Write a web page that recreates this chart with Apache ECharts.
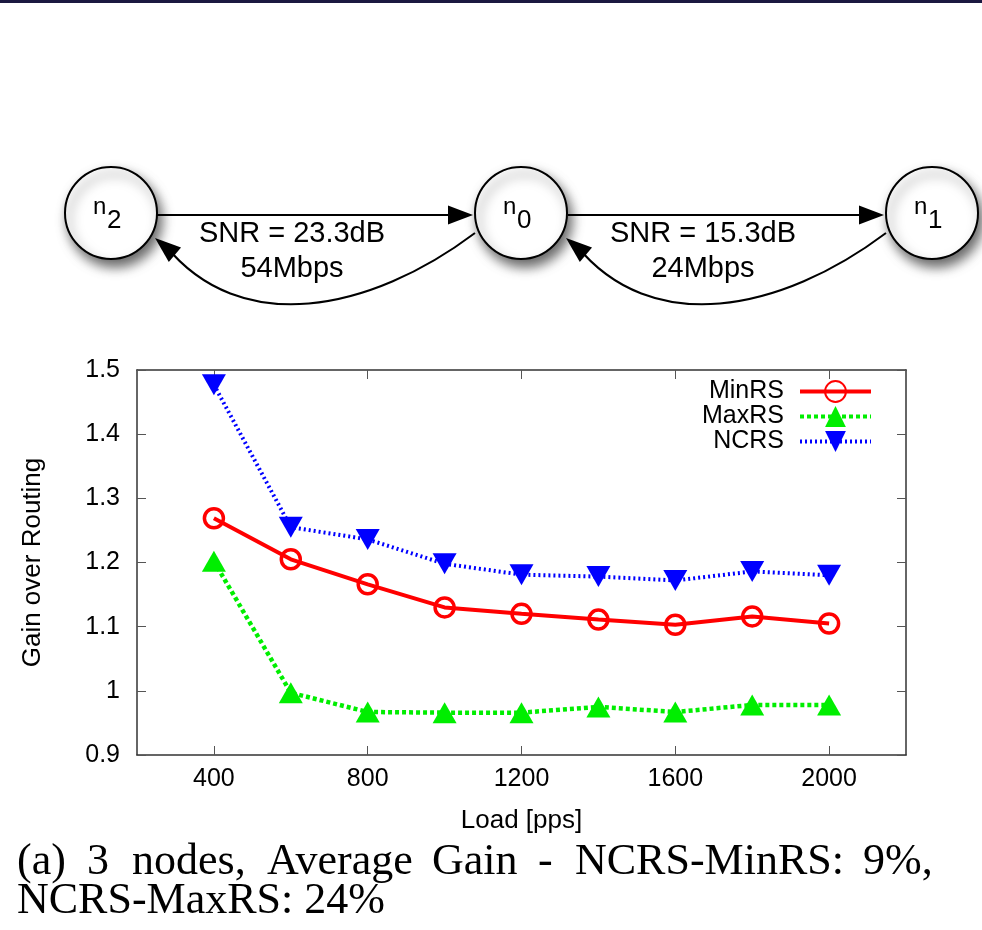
<!DOCTYPE html>
<html><head><meta charset="utf-8">
<script src="https://cdn.jsdelivr.net/npm/echarts@6/dist/echarts.min.js"></script>
<style>html,body{margin:0;padding:0;background:#fff}#c{width:982px;height:930px}</style>
</head><body><div id="c"></div>
<script>
// ---- data ----
const loads = [400, 600, 800, 1000, 1200, 1400, 1600, 1800, 2000];
const minRS = [1.269, 1.205, 1.166, 1.130, 1.120, 1.111, 1.103, 1.116, 1.105];
const maxRS = [1.202, 0.997, 0.967, 0.966, 0.966, 0.975, 0.967, 0.978, 0.978];
const ncRS  = [1.477, 1.255, 1.236, 1.198, 1.181, 1.178, 1.172, 1.186, 1.180];
const xTicks = [400, 800, 1200, 1600, 2000];
const yTicks = [0.9, 1.0, 1.1, 1.2, 1.3, 1.4, 1.5];
const seriesNames = ['MinRS', 'MaxRS', 'NCRS'];
const nodeNames = [['n', '2'], ['n', '0'], ['n', '1']];
const linkLabels = [['SNR = 23.3dB', '54Mbps'], ['SNR = 15.3dB', '24Mbps']];
const captionLine1 = ['(a)', '3', 'nodes,', 'Average', 'Gain', '-', 'NCRS-MinRS:', '9%,'];
const captionLine2 = 'NCRS-MaxRS: 24%';

// ---- layout/styles ----
const SANS = '"Liberation Sans", Arial, sans-serif';
const SERIF = '"Liberation Serif", "Times New Roman", serif';
const nodeCx = [111, 521, 932], nodeCy = 213, nodeR = 46;
const captionX1 = [17, 87, 132, 267, 432, 538, 575, 863];

function pairs(ys) { return loads.map((x, i) => [x, ys[i]]); }

function arrowHead(tx, ty, angleDeg, L, W) {
  const a = angleDeg * Math.PI / 180;
  const dx = Math.cos(a), dy = Math.sin(a);
  const bx = tx - L * dx, by = ty - L * dy;
  const nx = -dy, ny = dx;
  return {
    type: 'polygon',
    shape: { points: [[tx, ty], [bx + W * nx, by + W * ny], [bx - W * nx, by - W * ny]] },
    style: { fill: '#000' }, z: 10
  };
}

const g = [];
g.push({ type: 'rect', shape: { x: 0, y: 0, width: 982, height: 3 }, style: { fill: '#1b1840' } });
// links
for (let k = 0; k < 2; k++) {
  const off = k * 411;
  g.push({ type: 'line', shape: { x1: 157 + off, y1: 215, x2: 460 + off, y2: 215 }, style: { stroke: '#000', lineWidth: 2 }, z: 5 });
  g.push(arrowHead(473 + off, 215, 0, 25, 9.5));
  g.push({ type: 'bezierCurve', shape: { x1: 475 + off, y1: 233, cpx1: 370 + off, cpy1: 312, cpx2: 240 + off, cpy2: 338, x2: 165 + off, y2: 245 },
    style: { stroke: '#000', lineWidth: 2, fill: null }, z: 5 });
  g.push(arrowHead(155 + off, 238, 220, 26, 9.5));
  g.push({ type: 'text', x: 292 + off, y: 234, style: { text: linkLabels[k][0], font: '29px ' + SANS, fill: '#000', align: 'center', verticalAlign: 'middle' }, z: 10 });
  g.push({ type: 'text', x: 292 + off, y: 269, style: { text: linkLabels[k][1], font: '29px ' + SANS, fill: '#000', align: 'center', verticalAlign: 'middle' }, z: 10 });
}
// nodes
for (let k = 0; k < 3; k++) {
  g.push({ type: 'circle', shape: { cx: nodeCx[k], cy: nodeCy, r: nodeR },
    style: { fill: '#fff', stroke: '#000', lineWidth: 2, shadowBlur: 12, shadowColor: 'rgba(0,0,0,0.6)', shadowOffsetX: 4, shadowOffsetY: 7 }, z: 20 });
  g.push({ type: 'text', x: nodeCx[k] - 18, y: 207, style: { text: nodeNames[k][0], font: '24px ' + SANS, fill: '#000', align: 'left', verticalAlign: 'middle' }, z: 21 });
  g.push({ type: 'text', x: nodeCx[k] - 4, y: 221, style: { text: nodeNames[k][1], font: '26px ' + SANS, fill: '#000', align: 'left', verticalAlign: 'middle' }, z: 21 });
}
// caption
captionLine1.forEach((w, i) => {
  g.push({ type: 'text', x: captionX1[i], y: 862, style: { text: w, font: '44px ' + SERIF, fill: '#000', align: 'left', verticalAlign: 'middle' } });
});
g.push({ type: 'text', x: 17, y: 901, style: { text: captionLine2, font: '44px ' + SERIF, fill: '#000', align: 'left', verticalAlign: 'middle' } });

const axisLineStyle = { color: '#333', width: 1.5 };
const tickStyle = { color: '#555', width: 1 };
const labelStyle = { fontSize: 25, color: '#000', fontFamily: SANS };
const nameStyle = { fontSize: 26, color: '#000', fontFamily: SANS, verticalAlign: 'middle' };

const option = {
  animation: false,
  backgroundColor: '#fff',
  grid: { left: 137, right: 76, top: 370, bottom: 175 },
  legend: {
    orient: 'vertical', right: 109, top: 379, padding: 0, align: 'right',
    itemWidth: 71, itemHeight: 26, itemGap: 0,
    lineStyle: { width: 4 },
    textStyle: { fontSize: 25, color: '#000', fontFamily: SANS, padding: [0, 11, 0, 0] },
    data: seriesNames
  },
  xAxis: [
    { type: 'value', min: 200, max: 2200, position: 'bottom',
      axisLine: { show: true, lineStyle: axisLineStyle },
      axisTick: { show: true, inside: true, length: 9, customValues: xTicks, lineStyle: tickStyle },
      axisLabel: Object.assign({ customValues: xTicks, margin: 12, formatter: v => String(v) }, labelStyle),
      splitLine: { show: false },
      name: 'Load [pps]', nameLocation: 'middle', nameGap: 66, nameTextStyle: nameStyle },
    { type: 'value', min: 200, max: 2200, position: 'top',
      axisLine: { show: true, lineStyle: axisLineStyle },
      axisTick: { show: true, inside: true, length: 9, customValues: xTicks, lineStyle: tickStyle },
      axisLabel: { show: false }, splitLine: { show: false } }
  ],
  yAxis: [
    { type: 'value', min: 0.9, max: 1.5, position: 'left',
      axisLine: { show: true, lineStyle: axisLineStyle },
      axisTick: { show: true, inside: true, length: 9, customValues: yTicks, lineStyle: tickStyle },
      axisLabel: Object.assign({ customValues: yTicks, margin: 17, formatter: v => String(+(+v).toFixed(1)) }, labelStyle),
      splitLine: { show: false },
      name: 'Gain over Routing', nameLocation: 'middle', nameGap: 104, nameRotate: 90, nameTextStyle: nameStyle },
    { type: 'value', min: 0.9, max: 1.5, position: 'right',
      axisLine: { show: true, lineStyle: axisLineStyle },
      axisTick: { show: true, inside: true, length: 9, customValues: yTicks, lineStyle: tickStyle },
      axisLabel: { show: false }, splitLine: { show: false } }
  ],
  series: [
    { name: seriesNames[0], type: 'line', data: pairs(minRS), symbol: 'circle', symbolSize: 19,
      itemStyle: { color: 'rgba(255,255,255,0)', borderColor: '#ff0000', borderWidth: 3.5 },
      lineStyle: { color: '#ff0000', width: 4 }, z: 3 },
    { name: seriesNames[1], type: 'line', data: pairs(maxRS), symbol: 'triangle', symbolSize: [24, 21],
      itemStyle: { color: '#00ee00' },
      lineStyle: { color: '#00ee00', width: 4.5, type: [4, 3] }, z: 3 },
    { name: seriesNames[2], type: 'line', data: pairs(ncRS), symbol: 'path://M0,0L24,0L12,21Z', symbolSize: [24, 21],
      itemStyle: { color: '#0000ff' },
      lineStyle: { color: '#0000ff', width: 4, type: [2, 3] }, z: 3 }
  ],
  graphic: { elements: g }
};
const chart = echarts.init(document.getElementById('c'), null, { renderer: 'canvas' });
chart.setOption(option);
</script>
</body></html>
